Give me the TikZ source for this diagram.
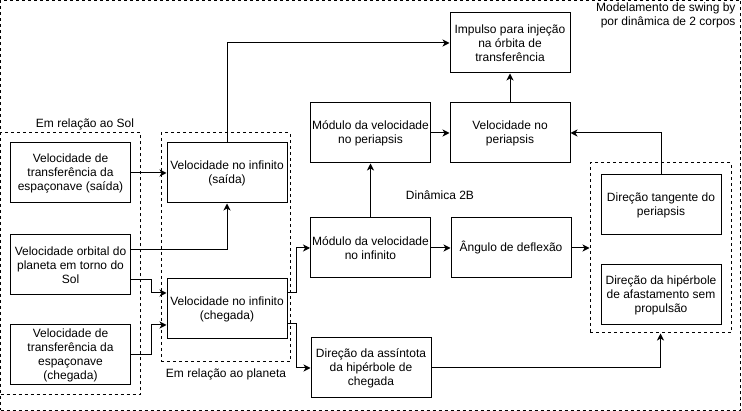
\documentclass[tikz,border=0pt]{standalone}
\usepackage{fontspec}
\setmainfont{Liberation Sans}
\usetikzlibrary{arrows.meta}

\begin{document}
\begin{tikzpicture}[x=1pt, y=-1pt, line width=1pt,
box/.style={draw, minimum width=120pt, minimum height=60pt, align=center, inner sep=0pt, font=\fontsize{12}{14}\selectfont},
grp/.style={draw, dash pattern=on 3pt off 3pt, inner sep=0pt},
lbl/.style={font=\fontsize{12}{14}\selectfont, inner sep=0pt},
arr/.style={-{Stealth[length=7pt, width=7pt, inset=2pt]}}]

\useasboundingbox (0,0) rectangle (742,411);
\node (swing) [grp, minimum width=740pt, minimum height=410pt] at (370.5,205.5) {};
\node (solgrp) [grp, minimum width=139.5pt, minimum height=262pt] at (70.25,264) {};
\node (plagrp) [grp, minimum width=129pt, minimum height=229pt] at (225.5,247.5) {};
\node (dirgrp) [grp, minimum width=141pt, minimum height=170pt] at (660.5,248) {};

\node (solsai) [box] at (70.5,173) {Velocidade de\\transferência da\\espaçonave (saída)};
\node (orbpla) [box] at (70.5,265) {Velocidade orbital do\\planeta em torno do\\Sol};
\node (solche) [box] at (70.5,355) {Velocidade de\\transferência da\\espaçonave\\(chegada)};
\node (infsai) [box] at (227,173) {Velocidade no infinito\\(saída)};
\node (infche) [box] at (227,309) {Velocidade no infinito\\(chegada)};
\node (impulso) [box] at (510,43) {Impulso para injeção\\na órbita de\\transferência};
\node (modper) [box] at (370.5,133) {Módulo da velocidade\\no periapsis};
\node (velper) [box] at (510,133) {Velocidade no\\periapsis};
\node (modinf) [box] at (370.5,248) {Módulo da velocidade\\no infinito};
\node (angulo) [box] at (511,248) {Ângulo de deflexão};
\node (assint) [box] at (371,368) {Direção da assíntota\\da hipérbole de\\chegada};
\node (tang) [box] at (661,205) {Direção tangente do\\periapsis};
\node (hiper) [box] at (661,295) {Direção da hipérbole\\de afastamento sem\\propulsão};

\node [lbl] at (85,124) {Em relação ao Sol};
\node [lbl] at (226,374) {Em relação ao planeta};
\node [lbl] at (440,195) {Dinâmica 2B};
\node [lbl, anchor=east, align=right] at (736,15.5) {Modelamento de swing by\\por dinâmica de 2 corpos};

\foreach \i/\j in {solsai/infsai, modinf/modper, modper/velper, velper/impulso, modinf/angulo, angulo/dirgrp}
\draw[arr] (\i) -- (\j);

\draw[arr] ([yshift=15pt]orbpla.east) -| (infsai.south);
\draw[arr] ([yshift=-15pt]orbpla.east) -- ++(20,0) |- ([yshift=16pt]infche.west);
\draw[arr] (solche.east) -- ++(20,0) |- ([yshift=-16pt]infche.west);
\draw[arr] (infsai.north) |- (impulso.west);
\draw[arr] ([yshift=16pt]infche.east) -- ++(9,0) |- (modinf.west);
\draw[arr] ([yshift=-15pt]infche.east) -- ++(9,0) |- (assint.west);
\draw[arr] (tang.north) |- (velper.east);
\draw[arr] (assint.east) -| (dirgrp.south);

\end{tikzpicture}
\end{document}
